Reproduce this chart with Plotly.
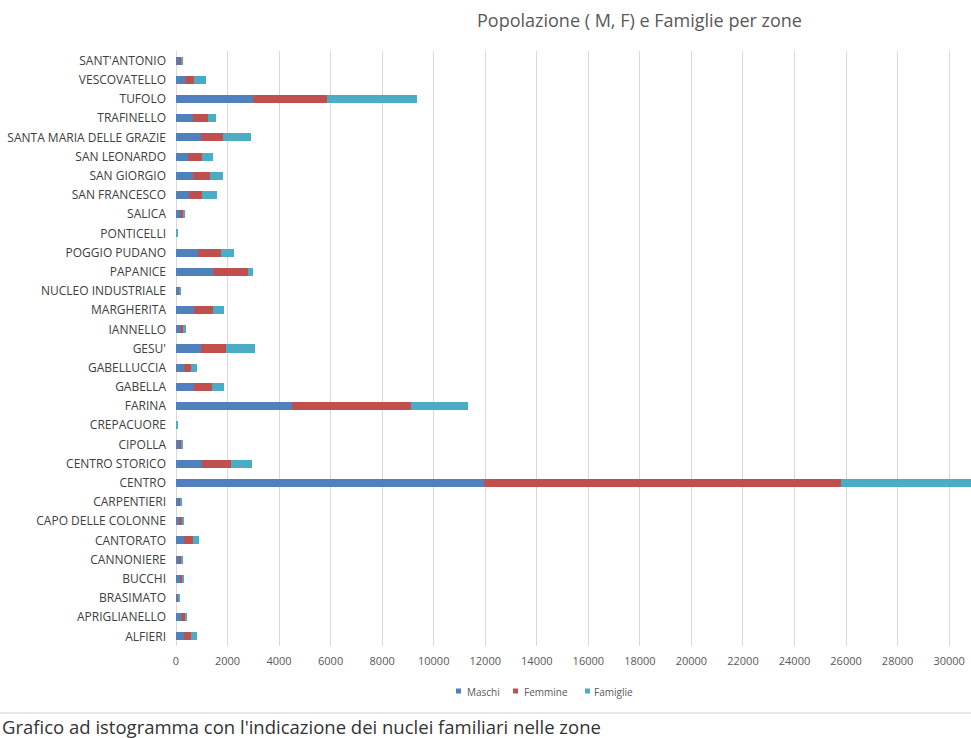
import plotly.graph_objects as go

# Zone, dal basso verso l'alto
zone = [
    "ALFIERI", "APRIGLIANELLO", "BRASIMATO", "BUCCHI", "CANNONIERE",
    "CANTORATO", "CAPO DELLE COLONNE", "CARPENTIERI", "CENTRO",
    "CENTRO STORICO", "CIPOLLA", "CREPACUORE", "FARINA", "GABELLA",
    "GABELLUCCIA", "GESU'", "IANNELLO", "MARGHERITA", "NUCLEO INDUSTRIALE",
    "PAPANICE", "POGGIO PUDANO", "PONTICELLI", "SALICA", "SAN FRANCESCO",
    "SAN GIORGIO", "SAN LEONARDO", "SANTA MARIA DELLE GRAZIE", "TRAFINELLO",
    "TUFOLO", "VESCOVATELLO", "SANT'ANTONIO",
]

maschi = [
    310, 180, 55, 140, 120,
    310, 130, 100, 11950,
    1000, 110, 20, 4500, 690,
    310, 970, 150, 710, 80,
    1450, 840, 20, 150, 490,
    650, 455, 970, 650,
    2975, 350, 120,
]

femmine = [
    285, 180, 50, 130, 110,
    335, 130, 90, 13840,
    1140, 120, 15, 4600, 710,
    285, 970, 120, 710, 70,
    1335, 905, 15, 150, 505,
    660, 545, 845, 610,
    2890, 350, 110,
]

famiglie = [
    220, 29, 12, 28, 29,
    260, 38, 17, 10500,
    800, 29, 5, 2225, 455,
    220, 1125, 118, 430, 18,
    210, 490, 5, 37, 610,
    505, 430, 1090, 300,
    3495, 465, 30,
]

serie = ["Maschi", "Femmine", "Famiglie"]
colori = ["#4F81BD", "#C0504D", "#4BACC6"]

x_ticks = list(range(0, 30001, 2000))

# Plot area in pixels
PLOT_L, PLOT_W = 176, 795
PLOT_T, PLOT_B = 51, 646
PLOT_H = PLOT_B - PLOT_T


def px_x(px):
    return (px - PLOT_L) / PLOT_W


def px_y(py):
    return (PLOT_B - py) / PLOT_H


fig = go.Figure()
for nome, valori, colore in zip(serie, [maschi, femmine, famiglie], colori):
    fig.add_trace(go.Bar(
        y=zone, x=valori, name=nome, orientation="h",
        marker=dict(color=colore, line=dict(width=0)),
    ))

fig.update_layout(
    width=971, height=738,
    margin=dict(l=PLOT_L, r=0, t=PLOT_T, b=738 - PLOT_B, pad=0),
    barmode="stack", bargap=0.58,
    plot_bgcolor="white", paper_bgcolor="white",
    font=dict(family="Open Sans", color="#595959"),
    showlegend=False,
    xaxis=dict(
        range=[0, 30850], tickvals=x_ticks,
        ticktext=[str(v) for v in x_ticks],
        showgrid=True, gridcolor="#d9d9d9", gridwidth=1,
        zeroline=True, zerolinecolor="#d9d9d9", zerolinewidth=1,
        showline=False, ticks="", ticklen=0,
        ticklabelstandoff=7,
        tickfont=dict(size=11, color="#595959"),
        fixedrange=True,
    ),
    yaxis=dict(
        categoryorder="array", categoryarray=zone,
        showgrid=False, zeroline=False, showline=False,
        ticks="", ticklen=0,
        ticklabelstandoff=9,
        tickfont=dict(size=12, color="#404040"),
        fixedrange=True,
    ),
)

# Legend below the axis: small squares with labels
legenda_quadrati = [456, 513, 585]
legenda_testi = [465, 522, 592]
for nome, colore, xq, xt in zip(serie, colori, legenda_quadrati, legenda_testi):
    fig.add_shape(
        type="rect", xref="paper", yref="paper",
        x0=px_x(xq), x1=px_x(xq + 5), y0=px_y(693.5), y1=px_y(688.5),
        line=dict(width=0), fillcolor=colore,
    )
    fig.add_annotation(
        text=nome, xref="paper", yref="paper",
        x=px_x(xt), y=px_y(691.5), xanchor="left", yanchor="middle",
        showarrow=False, font=dict(size=10, color="#595959"),
    )

# Chart title
fig.add_annotation(
    text="Popolazione ( M, F) e Famiglie per zone",
    xref="paper", yref="paper", x=px_x(639), y=px_y(20),
    xanchor="center", yanchor="middle", showarrow=False,
    font=dict(size=18, color="#595959", family="Open Sans"),
)

# Separator line and caption below the chart
fig.add_shape(
    type="line", xref="paper", yref="paper",
    x0=px_x(0), x1=px_x(971), y0=px_y(713), y1=px_y(713),
    line=dict(color="#e8e8e8", width=2),
)
fig.add_annotation(
    text="Grafico ad istogramma con l'indicazione dei nuclei familiari nelle zone",
    xref="paper", yref="paper", x=px_x(0), y=px_y(726),
    xanchor="left", yanchor="middle", showarrow=False,
    font=dict(size=18.5, color="#333333", family="Open Sans"),
)

fig.write_html("out.html")
